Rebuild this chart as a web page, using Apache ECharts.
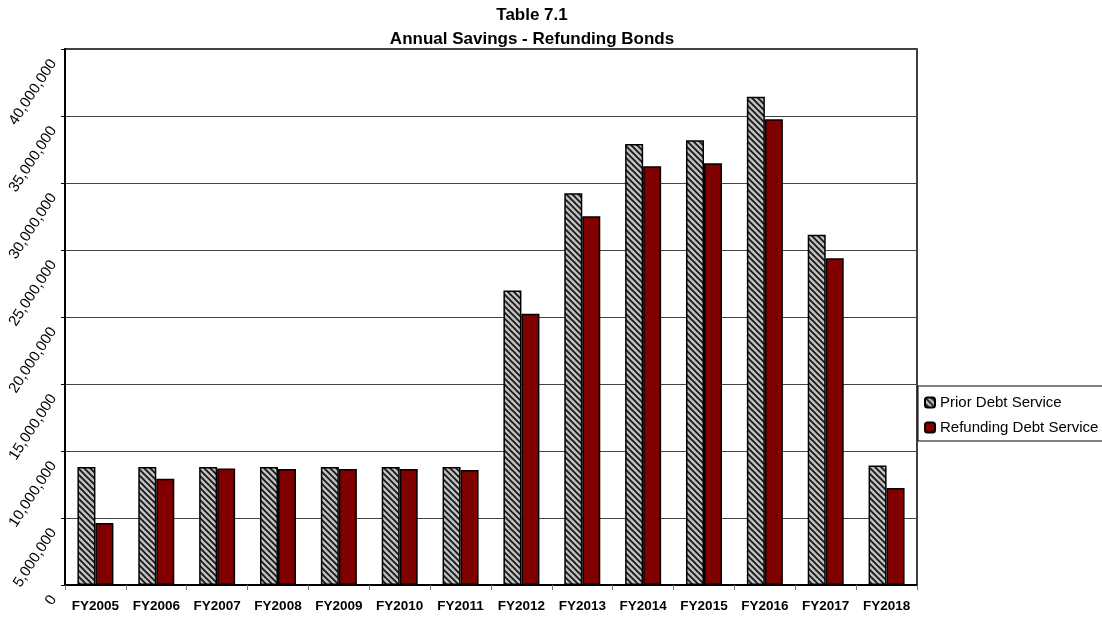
<!doctype html>
<html lang="en">
  <head>
    <meta charset="UTF-8" />
    <title>Annual Savings - Refunding Bonds</title>
    <script src="https://cdn.jsdelivr.net/npm/echarts@6/dist/echarts.min.js"></script>
    <style>
      html, body { margin: 0; padding: 0; background: #fff; }
      #chart { width: 1102px; height: 618px; }
    </style>
  </head>
  <body>
    <div id="chart"></div>
    <script>
      const years = ['FY2005', 'FY2006', 'FY2007', 'FY2008', 'FY2009', 'FY2010', 'FY2011',
        'FY2012', 'FY2013', 'FY2014', 'FY2015', 'FY2016', 'FY2017', 'FY2018'];
      const priorDebtService = [8800000, 8800000, 8800000, 8800000, 8800000, 8800000, 8800000,
        21970000, 29240000, 32910000, 33190000, 36440000, 26130000, 8920000];
      const refundingDebtService = [4620000, 7930000, 8700000, 8650000, 8650000, 8650000, 8580000,
        20240000, 27520000, 31250000, 31480000, 34760000, 24390000, 7230000];

      // hatched fill for the prior series: grey with black "\" stripes
      const makeHatch = () => {
        const c = document.createElement('canvas');
        c.width = 6;
        c.height = 6;
        const ctx = c.getContext('2d');
        ctx.fillStyle = '#bdbdbd';
        ctx.fillRect(0, 0, 6, 6);
        ctx.strokeStyle = '#111';
        ctx.lineWidth = 1.6;
        for (const k of [-6, 0, 6]) {
          ctx.beginPath();
          ctx.moveTo(k - 1, -1);
          ctx.lineTo(k + 7, 7);
          ctx.stroke();
        }
        return c;
      };

      const font = 'Liberation Sans, Arial, sans-serif';
      const chart = echarts.init(document.getElementById('chart'), null, { renderer: 'canvas' });
      chart.setOption({
        animation: false,
        textStyle: { fontFamily: font },
        title: {
          text: 'Table 7.1\nAnnual Savings - Refunding Bonds',
          left: 527,
          top: -2,
          textAlign: 'center',
          textStyle: { fontFamily: font, fontSize: 17, fontWeight: 'bold', lineHeight: 24, color: '#000' },
        },
        legend: {
          orient: 'vertical',
          left: 918,
          top: 386,
          padding: [9, 60, 6, 6],
          itemGap: 10,
          itemWidth: 10,
          itemHeight: 10,
          borderColor: '#000',
          borderWidth: 1,
          textStyle: { fontFamily: font, fontSize: 15, color: '#000' },
          data: ['Prior Debt Service', 'Refunding Debt Service'],
        },
        grid: {
          left: 65,
          right: 185,
          top: 49,
          bottom: 33,
          show: true,
          borderColor: '#000',
          borderWidth: 1.5,
          containLabel: false,
        },
        xAxis: {
          type: 'category',
          data: years,
          axisLine: { lineStyle: { color: '#000', width: 2 } },
          axisTick: { show: true, interval: 0, length: 5, lineStyle: { color: '#777' } },
          axisLabel: {
            interval: 0,
            hideOverlap: false,
            margin: 14,
            fontSize: 13.5,
            fontWeight: 'bold',
            color: '#000',
            fontFamily: font,
          },
        },
        yAxis: {
          type: 'value',
          min: 0,
          max: 40000000,
          interval: 5000000,
          axisLine: { show: true, lineStyle: { color: '#000', width: 2 } },
          axisTick: { show: true, length: 4, lineStyle: { color: '#000' } },
          splitLine: { lineStyle: { color: '#444', width: 1 } },
          axisLabel: {
            rotate: 57,
            margin: 4,
            padding: [0, 14, 0, 0],
            fontSize: 15,
            color: '#000',
            fontFamily: font,
            formatter: (v) => v.toLocaleString('en-US'),
          },
        },
        series: [
          {
            name: 'Prior Debt Service',
            type: 'bar',
            data: priorDebtService,
            barWidth: 18,
            barGap: '0%',
            itemStyle: {
              color: { image: makeHatch(), repeat: 'repeat' },
              borderColor: '#000',
              borderWidth: 1.5,
            },
          },
          {
            name: 'Refunding Debt Service',
            type: 'bar',
            data: refundingDebtService,
            barWidth: 18,
            barGap: '0%',
            itemStyle: { color: '#800000', borderColor: '#000', borderWidth: 1.5 },
          },
        ],
      });
    </script>
  </body>
</html>
